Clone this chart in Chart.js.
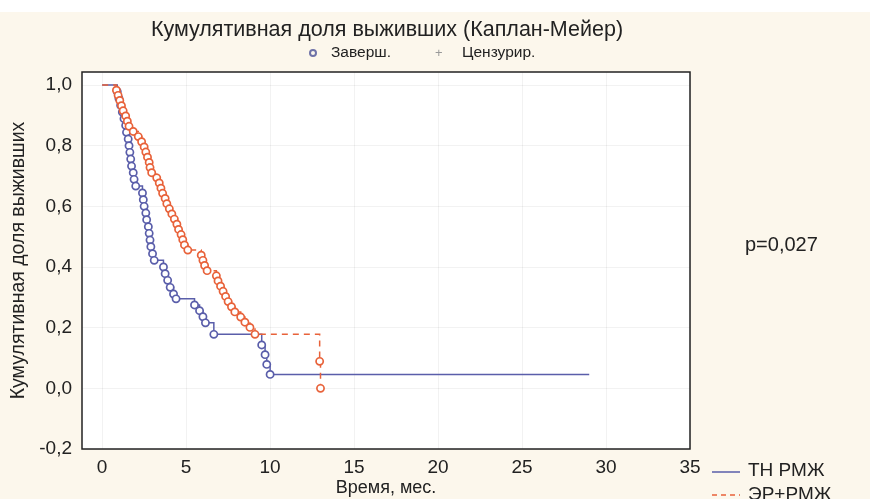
<!DOCTYPE html>
<html>
<head>
<meta charset="utf-8">
<script src="https://cdn.jsdelivr.net/npm/chart.js@4/dist/chart.umd.min.js"></script>
<style>
  html, body { margin: 0; padding: 0; background: #fcf7ec; }
  canvas { display: block; }
</style>
</head>
<body>
<canvas id="kmChart" width="870" height="499"></canvas>
<script>
// axis ticks
const xTicks = [0, 5, 10, 15, 20, 25, 30, 35];
const yTicks = [-0.2, 0, 0.2, 0.4, 0.6, 0.8, 1.0];

// ТН РМЖ (triple negative) - time, months / cumulative survival
const tnTime = [0, 0.9, 1.0, 1.1, 1.2, 1.3, 1.4, 1.45, 1.55, 1.6, 1.65, 1.7, 1.75, 1.85, 1.9, 2.0,
    2.4, 2.45, 2.5, 2.6, 2.65, 2.75, 2.8, 2.85, 2.9, 3.0, 3.1,
    3.65, 3.75, 3.9, 4.05, 4.25, 4.4,
    5.5, 5.8, 6.0, 6.15, 6.65,
    9.5, 9.7, 9.8, 10.0, 29];
const tnSurv = [1.0, 0.978, 0.956, 0.933, 0.911, 0.889, 0.867, 0.844, 0.822, 0.8, 0.778, 0.756, 0.733, 0.711, 0.689, 0.667,
    0.644, 0.622, 0.6, 0.578, 0.556, 0.533, 0.511, 0.489, 0.467, 0.444, 0.422,
    0.4, 0.378, 0.356, 0.333, 0.311, 0.295,
    0.275, 0.256, 0.236, 0.216, 0.178,
    0.143, 0.111, 0.079, 0.046, 0.046];

// ЭР+РМЖ (ER positive)
const erTime = [0, 0.85, 0.95, 1.05, 1.15, 1.25, 1.4, 1.5, 1.6, 1.85, 2.15, 2.35, 2.5, 2.6, 2.7, 2.8, 2.85, 2.95,
    3.25, 3.4, 3.5, 3.6, 3.75, 3.85, 4.0, 4.15, 4.3, 4.45, 4.55, 4.7, 4.8, 4.9, 5.1,
    5.9, 6.0, 6.1, 6.25, 6.8, 6.9, 7.05, 7.2, 7.35, 7.5, 7.7, 7.9, 8.25, 8.5, 8.8, 9.1,
    12.95, 13.0];
const erSurv = [1.0, 0.983, 0.966, 0.949, 0.932, 0.915, 0.898, 0.881, 0.864, 0.847, 0.83, 0.813, 0.796, 0.779, 0.762, 0.745, 0.728, 0.711,
    0.694, 0.677, 0.66, 0.643, 0.626, 0.609, 0.592, 0.575, 0.558, 0.541, 0.524, 0.507, 0.49, 0.473, 0.456,
    0.439, 0.422, 0.405, 0.388, 0.371, 0.354, 0.337, 0.32, 0.303, 0.286, 0.269, 0.252, 0.235, 0.218, 0.201, 0.178,
    0.089, 0.0];

const blue = '#5a5eaa';
const red = '#e8623a';
const fontFam = '"Liberation Sans", Arial, sans-serif';

Chart.defaults.font.family = fontFam;
Chart.defaults.color = '#222';

function toPoints(ts, ss) {
    return ts.map((t, i) => ({ x: t, y: ss[i] }));
}
function fmt(v) {
    return v.toFixed(1).replace('.', ',');
}

// background, frame and the loose texts around the plot
const decor = {
    id: 'decor',
    beforeDraw(chart) {
        const ctx = chart.ctx;
        const a = chart.chartArea;
        ctx.save();
        ctx.fillStyle = '#fcf7ec';
        ctx.fillRect(0, 0, chart.width, chart.height);
        ctx.fillStyle = '#ffffff';
        ctx.fillRect(0, 0, chart.width, 12);
        ctx.fillRect(a.left, a.top, a.right - a.left, a.bottom - a.top);
        ctx.restore();
    },
    afterDraw(chart) {
        const ctx = chart.ctx;
        const a = chart.chartArea;
        ctx.save();
        ctx.strokeStyle = '#222';
        ctx.lineWidth = 1.5;
        ctx.strokeRect(a.left, a.top, a.right - a.left, a.bottom - a.top);

        ctx.fillStyle = '#222';
        ctx.textBaseline = 'middle';
        ctx.textAlign = 'center';
        ctx.font = '21.5px ' + fontFam;
        ctx.fillText('Кумулятивная доля выживших (Каплан-Мейер)', 387, 30);

        // top legend
        ctx.textAlign = 'left';
        ctx.font = '15.5px ' + fontFam;
        ctx.beginPath();
        ctx.arc(313, 53, 3, 0, Math.PI * 2);
        ctx.strokeStyle = '#6e72a8';
        ctx.lineWidth = 2;
        ctx.stroke();
        ctx.fillText('Заверш.', 331, 53);
        ctx.fillStyle = '#999';
        ctx.font = '13px ' + fontFam;
        ctx.fillText('+', 435, 53);
        ctx.fillStyle = '#222';
        ctx.font = '15.5px ' + fontFam;
        ctx.fillText('Цензурир.', 462, 53);

        // p value
        ctx.font = '20px ' + fontFam;
        ctx.fillText('p=0,027', 745, 245);

        // series legend
        ctx.font = '19px ' + fontFam;
        ctx.lineWidth = 1.5;
        ctx.strokeStyle = blue;
        ctx.beginPath();
        ctx.moveTo(712, 472);
        ctx.lineTo(740, 472);
        ctx.stroke();
        ctx.fillText('ТН РМЖ', 748, 471);
        ctx.strokeStyle = red;
        ctx.setLineDash([5, 4]);
        ctx.beginPath();
        ctx.moveTo(712, 495);
        ctx.lineTo(740, 495);
        ctx.stroke();
        ctx.setLineDash([]);
        ctx.fillText('ЭР+РМЖ', 748, 495);
        ctx.restore();
    }
};

const ctx = document.getElementById('kmChart').getContext('2d');
const kmChart = new Chart(ctx, {
    type: 'line',
    data: {
        datasets: [{
            label: 'ТН РМЖ',
            data: toPoints(tnTime, tnSurv),
            order: 1,
            borderColor: blue,
            borderWidth: 1.5,
            stepped: 'before',
            pointRadius: c => (c.dataIndex === 0 || c.dataIndex === tnTime.length - 1) ? 0 : 3.6,
            pointBorderWidth: 1.7,
            pointBorderColor: blue,
            pointBackgroundColor: '#ffffff',
            fill: false
        }, {
            label: 'ЭР+РМЖ',
            data: toPoints(erTime, erSurv),
            order: 0,
            borderColor: red,
            borderWidth: 1.5,
            borderDash: [6, 5],
            stepped: 'before',
            pointRadius: c => c.dataIndex === 0 ? 0 : 3.6,
            pointBorderWidth: 1.7,
            pointBorderColor: red,
            pointBackgroundColor: '#ffffff',
            fill: false
        }]
    },
    options: {
        responsive: false,
        animation: false,
        devicePixelRatio: 1,
        layout: { padding: { left: 0, top: 72, right: 180, bottom: 0 } },
        plugins: {
            legend: { display: false },
            tooltip: { enabled: false }
        },
        scales: {
            x: {
                type: 'linear',
                min: -1.2,
                max: 35,
                afterBuildTicks: s => { s.ticks = xTicks.map(v => ({ value: v })); },
                afterFit: s => { s.height = 50; },
                grid: { color: 'rgba(0,0,0,0.05)', drawTicks: false },
                border: { display: false },
                ticks: { font: { size: 19 }, color: '#222', padding: 7, callback: v => String(v) },
                title: { display: true, text: 'Время, мес.', font: { size: 18 }, color: '#222', padding: { top: 0, bottom: 0 } }
            },
            y: {
                type: 'linear',
                min: -0.2,
                max: 1.043,
                afterBuildTicks: s => { s.ticks = yTicks.map(v => ({ value: v })); },
                afterFit: s => { s.width = 82; },
                grid: { color: 'rgba(0,0,0,0.05)', drawTicks: false },
                border: { display: false },
                ticks: { font: { size: 19 }, color: '#222', padding: 10, callback: v => fmt(v) },
                title: { display: true, text: 'Кумулятивная доля выживших', font: { size: 19.5 }, color: '#222', padding: { top: 7 } }
            }
        }
    },
    plugins: [decor]
});
</script>
</body>
</html>
